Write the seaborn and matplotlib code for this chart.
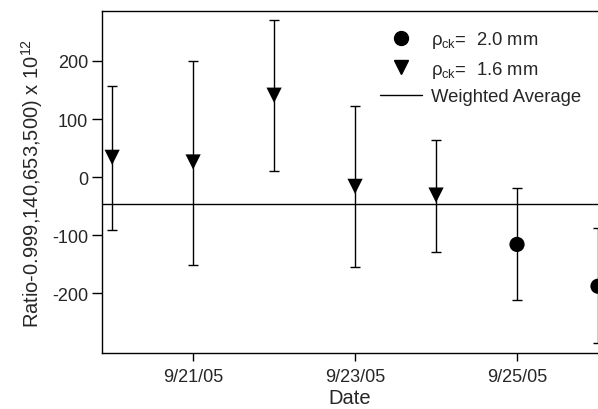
import pandas as pd
import numpy as np
import matplotlib
matplotlib.use('Agg')
import matplotlib.pyplot as plt
import matplotlib.dates as mdates
from matplotlib.lines import Line2D
import seaborn as sns

# data
dates = ['2005-09-20', '2005-09-21', '2005-09-22', '2005-09-23', '2005-09-24', '2005-09-25', '2005-09-26']
ratio = [34, 26, 141, -16, -31, -116, -188]
err_hi = [157, 200, 270, 122, 64, -19, -88]
err_lo = [-91, -152, 10, -155, -129, -212, -286]
size = ['1.6', '1.6', '1.6', '1.6', '1.6', '2.0', '2.0']
weighted_avg = -46

df = pd.DataFrame({'date': pd.to_datetime(dates), 'ratio': ratio,
                   'hi': err_hi, 'lo': err_lo, 'size': size})

sns.set_style('ticks')
plt.rcParams['font.family'] = ['Liberation Sans', 'DejaVu Sans']
plt.rcParams['mathtext.fontset'] = 'custom'
plt.rcParams['mathtext.rm'] = 'Liberation Sans'
plt.rcParams['mathtext.it'] = 'Liberation Sans'
plt.rcParams['axes.unicode_minus'] = False

fig = plt.figure(figsize=(5.98, 4.10), dpi=100)
ax = fig.add_axes([0.1706, 0.1366, 0.8294, 0.8341])

yerr = [df['ratio'] - df['lo'], df['hi'] - df['ratio']]
ax.errorbar(df['date'], df['ratio'], yerr=yerr, fmt='none', ecolor='black',
            elinewidth=1, capsize=3.5, capthick=1)
ax.axhline(weighted_avg, color='black', lw=1)
sns.scatterplot(data=df, x='date', y='ratio', style='size',
                markers={'2.0': 'o', '1.6': 'v'}, color='black', s=120,
                edgecolor='black', linewidth=0, legend=False, ax=ax, zorder=3)

ax.set_xlim(pd.Timestamp('2005-09-19 21:00'), pd.Timestamp('2005-09-26'))
ax.set_ylim(-303, 286)
ax.set_yticks([-200, -100, 0, 100, 200])
ax.xaxis.set_major_locator(mdates.DayLocator(bymonthday=[21, 23, 25]))
ax.xaxis.set_major_formatter(mdates.DateFormatter('%-m/%d/%y'))
ax.tick_params(labelsize=13, width=1, color='black')
ax.tick_params(axis='x', length=6, pad=5)
ax.tick_params(axis='y', length=7, pad=3)
ax.spines['right'].set_visible(False)
for s in ['left', 'top', 'bottom']:
    ax.spines[s].set_linewidth(1)
    ax.spines[s].set_color('black')

ax.set_xlabel('Date', fontsize=14.5, labelpad=2)
ax.set_ylabel(r'Ratio-0.999,140,653,500) x 10$^{12}$', fontsize=14.5, labelpad=5)

handles = [Line2D([], [], marker='o', color='black', ls='none', markersize=10),
           Line2D([], [], marker='v', color='black', ls='none', markersize=10),
           Line2D([], [], color='black', lw=1)]
labels = [r'$\rho_{\rm ck}$=  2.0 mm', r'$\rho_{\rm ck}$=  1.6 mm', 'Weighted Average']
ax.legend(handles, labels, loc='upper right', bbox_to_anchor=(1.0, 0.995),
          frameon=False, fontsize=13.3, handlelength=2.3, handletextpad=0.5,
          labelspacing=0.45)

fig.savefig('out.png', dpi=100)
